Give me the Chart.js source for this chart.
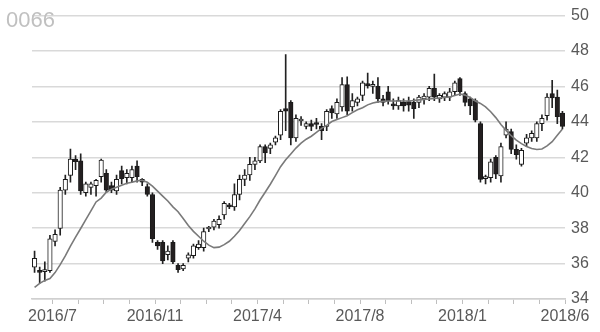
<!DOCTYPE html>
<html>
<head>
<meta charset="utf-8">
<script src="https://cdn.jsdelivr.net/npm/chart.js@4.4.1/dist/chart.umd.min.js"></script>
<style>
  html, body { margin: 0; padding: 0; background: #fff; }
  #wrap { width: 600px; height: 332px; }
</style>
</head>
<body>
<div id="wrap"><canvas id="myChart" width="600" height="332"></canvas></div>
<script>
// ---- data (weekly candles, 2016/6 - 2018/6)
const stockCode = "0066";

const openP = [35.8, 35.6, 35.55, 35.6, 37.25, 37.98, 40.15, 40.97, 41.9, 41.8,
  40.0, 40.3, 40.4, 40.9, 41.1, 40.4, 40.1, 41.25, 40.85, 40.85,
  41.5, 40.75, 40.35, 39.9, 37.2, 37.2, 36.5, 37.2, 35.9, 35.7,
  36.3, 36.45, 36.9, 36.9, 37.95, 38.05, 38.2, 38.75, 39.3, 39.2,
  39.9, 40.75, 41.0, 41.6, 41.8, 42.6, 42.5, 42.85, 43.25, 44.75,
  45.1, 43.1, 44.05, 43.75, 43.9, 43.95, 43.75, 43.75, 44.75, 44.45,
  44.85, 46.1, 44.85, 45.1, 45.5, 46.1, 46.0, 46.0, 45.3, 45.7,
  45.0, 44.9, 45.1, 45.15, 45.1, 45.1, 45.3, 45.4, 45.9, 45.3,
  45.4, 45.4, 45.7, 46.45, 45.6, 45.3, 45.2, 43.9, 40.8, 40.85,
  42.0, 40.95, 43.25, 43.45, 42.45, 41.6, 42.8, 43.1, 43.1, 43.9,
  44.35, 45.6, 45.4, 44.5];

const highP = [36.7, 35.8, 36.1, 37.6, 37.9, 40.3, 41.0, 42.47, 42.1, 42.2,
  40.6, 40.6, 40.75, 41.9, 41.3, 40.6, 41.0, 41.5, 41.3, 41.5,
  41.8, 40.8, 40.5, 40.0, 37.3, 37.3, 37.0, 37.3, 36.0, 36.0,
  36.6, 37.1, 37.3, 38.0, 38.1, 38.5, 38.7, 39.5, 39.4, 40.5,
  41.0, 41.3, 42.0, 42.0, 42.7, 42.7, 42.8, 43.2, 44.7, 47.8,
  45.2, 44.4, 44.3, 44.0, 44.1, 44.2, 43.9, 44.7, 44.9, 45.3,
  46.5, 46.55, 45.6, 45.4, 46.3, 46.75, 46.3, 46.5, 45.5, 46.0,
  45.3, 45.4, 45.3, 45.4, 45.3, 45.5, 45.6, 46.0, 46.7, 45.6,
  45.7, 45.9, 46.3, 46.5, 45.7, 45.4, 45.3, 44.0, 41.0, 41.9,
  42.1, 42.8, 44.0, 43.6, 42.7, 42.5, 43.3, 43.5, 44.0, 44.4,
  45.6, 46.35, 45.8, 44.6];

const lowP = [35.5, 34.9, 35.0, 35.5, 37.0, 37.6, 39.9, 40.6, 41.3, 39.9,
  39.8, 39.9, 39.8, 40.6, 40.0, 40.0, 39.9, 40.5, 40.5, 40.6,
  40.6, 40.4, 39.8, 37.2, 36.8, 36.0, 36.2, 36.0, 35.5, 35.6,
  36.1, 36.3, 36.8, 36.7, 37.8, 37.9, 38.0, 38.5, 39.1, 39.0,
  39.6, 40.4, 40.7, 41.3, 41.7, 41.7, 42.2, 42.7, 43.0, 43.5,
  42.7, 42.9, 43.8, 43.6, 43.5, 43.6, 43.0, 43.5, 44.2, 44.2,
  44.6, 44.4, 44.6, 44.9, 45.2, 45.9, 45.6, 45.1, 44.9, 45.0,
  44.7, 44.7, 44.6, 44.6, 44.2, 44.8, 45.0, 45.2, 45.2, 45.1,
  45.2, 45.2, 45.5, 45.5, 44.9, 44.4, 44.0, 40.6, 40.5, 40.6,
  40.8, 40.6, 43.1, 42.2, 41.9, 41.5, 42.6, 42.9, 42.9, 43.5,
  44.1, 44.8, 43.9, 43.6];

const closeP = [36.3, 35.5, 35.65, 37.4, 37.65, 40.15, 40.75, 41.9, 41.75, 40.1,
  40.5, 40.5, 40.7, 41.85, 40.15, 40.15, 40.75, 40.8, 41.1, 41.3,
  40.9, 40.6, 39.9, 37.4, 37.0, 36.15, 36.7, 36.1, 35.65, 35.9,
  36.5, 37.0, 37.1, 37.8, 38.0, 38.4, 38.5, 39.4, 39.2, 39.9,
  40.75, 41.0, 41.6, 41.8, 42.6, 42.25, 42.7, 43.1, 44.6, 44.6,
  43.1, 44.2, 44.15, 43.9, 43.75, 43.85, 43.5, 44.6, 44.5, 45.1,
  46.1, 44.6, 45.2, 45.3, 46.2, 46.05, 46.05, 45.3, 45.1, 45.2,
  44.9, 45.2, 44.9, 44.95, 44.75, 45.4, 45.45, 45.9, 45.4, 45.5,
  45.6, 45.7, 46.2, 45.7, 45.1, 44.9, 44.1, 40.75, 40.9, 41.75,
  41.05, 42.6, 43.6, 42.45, 42.15, 42.4, 43.1, 43.35, 43.9, 44.2,
  45.4, 45.35, 44.3, 43.75];

// moving average line
const maLine = [34.66, 34.88, 35.05, 35.16, 35.49, 35.94, 36.43, 36.99, 37.49, 37.98,
  38.48, 38.98, 39.48, 39.70, 40.03, 40.20, 40.31, 40.42, 40.53, 40.59,
  40.67, 40.70, 40.59, 40.37, 40.09, 39.81, 39.53, 39.20, 38.93, 38.54,
  38.15, 37.82, 37.54, 37.26, 37.04, 36.90, 36.93, 37.07, 37.26, 37.54,
  37.87, 38.26, 38.65, 39.09, 39.59, 40.03, 40.48, 40.97, 41.47, 41.86,
  42.19, 42.52, 42.80, 43.02, 43.19, 43.41, 43.63, 43.80, 44.02, 44.13,
  44.24, 44.35, 44.52, 44.68, 44.80, 44.96, 45.07, 45.13, 45.16, 45.18,
  45.18, 45.18, 45.18, 45.18, 45.21, 45.24, 45.27, 45.29, 45.32, 45.35,
  45.38, 45.40, 45.49, 45.57, 45.51, 45.38, 45.18, 45.04, 44.85, 44.57,
  44.24, 43.85, 43.52, 43.22, 42.97, 42.77, 42.61, 42.50, 42.44, 42.47,
  42.64, 42.88, 43.24, 43.60];

// x axis: tick every 5 weeks, label every 20 weeks
const tickWeeks = [4, 9, 14, 19, 24, 29, 34, 39, 44, 49, 54, 59, 64, 69, 74, 79, 84, 89, 94, 99, 104];
const labelWeeks = [4, 24, 44, 64, 84, 104];
const tickLabels = ["2016/7", "2016/11", "2017/4", "2017/8", "2018/1", "2018/6"];

// ---- build datasets
const bodies = openP.map((o, i) => ({ x: i + 0.5, y: [o, closeP[i]] }));
const wicks = openP.map((o, i) => ({ x: i + 0.5, y: [lowP[i], highP[i]] }));
const maPts = maLine.map((v, i) => ({ x: i + 0.5, y: v }));

const bodyFill = openP.map((o, i) => closeP[i] >= o ? "#ffffff" : "#231f20");

const codeLabel = {
  id: "codeLabel",
  afterDraw(chart) {
    const c = chart.ctx;
    c.save();
    c.font = "22px 'Liberation Sans', Arial, sans-serif";
    c.fillStyle = "#c0c0c0";
    c.textBaseline = "alphabetic";
    c.fillText(stockCode, 6, 27);
    c.restore();
  }
};

const ctx = document.getElementById("myChart");
const chart = new Chart(ctx, {
  type: "bar",
  data: {
    datasets: [
      {
        type: "line",
        data: maPts,
        borderColor: "#7a7a7a",
        borderWidth: 1.6,
        pointRadius: 0,
        tension: 0,
        order: 1
      },
      {
        data: bodies,
        backgroundColor: bodyFill,
        borderColor: "#1a1a1a",
        borderWidth: 1,
        borderSkipped: false,
        barThickness: 4.5,
        minBarLength: 2,
        grouped: false,
        order: 2
      },
      {
        data: wicks,
        backgroundColor: "#222222",
        borderWidth: 0,
        barThickness: 1,
        grouped: false,
        order: 3
      }
    ]
  },
  options: {
    responsive: false,
    animation: false,
    layout: { padding: { top: 10, left: 32, right: 0, bottom: 0 } },
    plugins: {
      legend: { display: false },
      tooltip: { enabled: false }
    },
    scales: {
      x: {
        type: "linear",
        min: 0,
        max: 104,
        offset: false,
        afterBuildTicks: (scale) => {
          scale.ticks = tickWeeks.map(v => ({ value: v }));
        },
        afterFit: (scale) => { scale.height = 33; },
        grid: {
          offset: false,
          drawOnChartArea: false,
          drawTicks: true,
          tickLength: 5,
          color: "#bfbfbf"
        },
        border: { display: true, color: "#d0d0d0", width: 1.5 },
        ticks: {
          autoSkip: false,
          maxRotation: 0,
          padding: 3,
          color: "#595959",
          font: { family: "'Liberation Sans', Arial, sans-serif", size: 16 },
          callback: (v) => {
            const k = labelWeeks.indexOf(v);
            return k >= 0 ? tickLabels[k] : "";
          }
        }
      },
      y: {
        position: "right",
        min: 34,
        max: 50,
        afterFit: (scale) => { scale.width = 35; },
        grid: { color: "#d9d9d9", lineWidth: 1.5, drawTicks: false },
        border: { display: false },
        ticks: {
          stepSize: 2,
          padding: 6,
          color: "#595959",
          font: { family: "'Liberation Sans', Arial, sans-serif", size: 16 }
        }
      }
    }
  },
  plugins: [codeLabel]
});
</script>
</body>
</html>
